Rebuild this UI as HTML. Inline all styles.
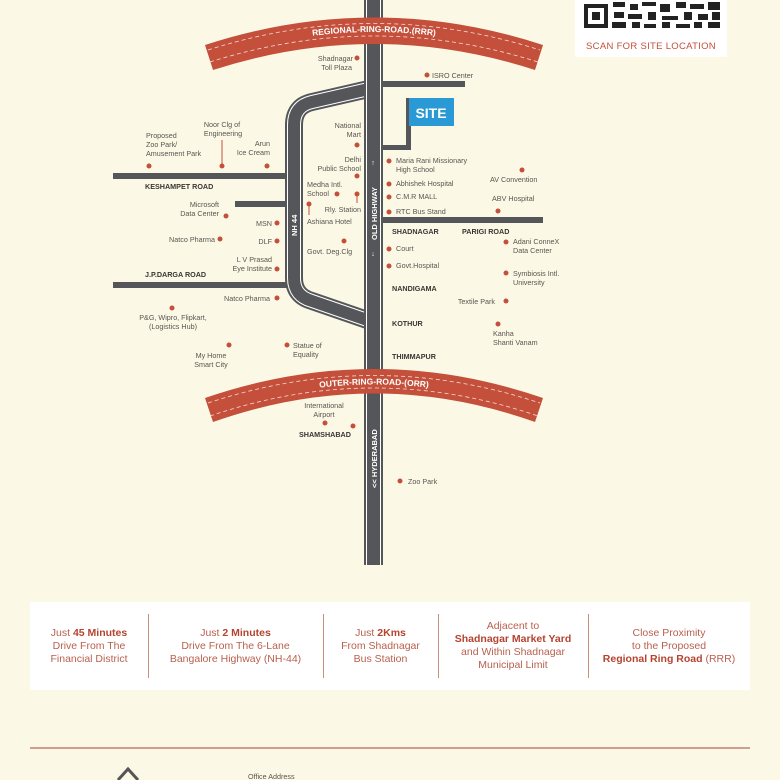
<!DOCTYPE html>
<html><head><meta charset="utf-8"><style>
html,body{margin:0;padding:0;background:#fbf9e6;}
body{width:780px;height:780px;overflow:hidden;position:relative;font-family:"Liberation Sans",sans-serif;}
svg{position:absolute;left:0;top:0}
.l{font-size:7.2px;fill:#5a5450}
.b{font-size:7.2px;font-weight:bold;fill:#3a3533}
.d{fill:#c4503b}
.box{position:absolute;left:30px;top:602px;width:720px;height:88px;background:#fff;}
.c{position:absolute;top:0;height:88px;display:flex;align-items:center;justify-content:center;text-align:center;font-size:10.5px;line-height:13px;color:#b8604e}
.c b{color:#b5432f}
.sep{position:absolute;top:12px;width:1px;height:64px;background:#c9907f}
</style></head><body>
<svg width="780" height="780" viewBox="0 0 780 780">
<rect x="575" y="0" width="152" height="57" fill="#fff"/>
<rect x="584" y="4" width="24" height="24" fill="#222"/><rect x="588" y="8" width="16" height="16" fill="#fff"/><rect x="592" y="12" width="8" height="8" fill="#222"/>
<g fill="#222"><rect x="613" y="2" width="12" height="5"/><rect x="630" y="4" width="8" height="6"/><rect x="642" y="2" width="14" height="4"/><rect x="660" y="4" width="10" height="8"/><rect x="676" y="2" width="10" height="6"/><rect x="690" y="4" width="14" height="5"/><rect x="708" y="2" width="12" height="8"/>
<rect x="614" y="12" width="10" height="6"/><rect x="628" y="14" width="14" height="5"/><rect x="648" y="12" width="8" height="8"/><rect x="662" y="16" width="16" height="4"/><rect x="684" y="12" width="8" height="8"/><rect x="698" y="14" width="10" height="6"/><rect x="712" y="12" width="8" height="8"/>
<rect x="612" y="22" width="14" height="6"/><rect x="632" y="22" width="8" height="6"/><rect x="644" y="24" width="12" height="4"/><rect x="662" y="22" width="8" height="6"/><rect x="676" y="24" width="14" height="4"/><rect x="694" y="22" width="8" height="6"/><rect x="708" y="22" width="12" height="6"/></g>
<text x="651" y="49" text-anchor="middle" font-size="9.5" fill="#c4503b" letter-spacing=".3">SCAN FOR SITE LOCATION</text>

<g fill="none" stroke-linejoin="round">
<path d="M373,88 L312,102 Q294,106 294,125 L294,278 Q294,296 312,301 L373,322" stroke="#55565a" stroke-width="18"/>
<path d="M373,88 L312,102 Q294,106 294,125 L294,278 Q294,296 312,301 L373,322" stroke="#fff" stroke-width="14"/>
<path d="M373,88 L312,102 Q294,106 294,125 L294,278 Q294,296 312,301 L373,322" stroke="#55565a" stroke-width="12"/>
</g>
<rect x="364" y="0" width="19" height="565" fill="#55565a"/>
<rect x="366" y="0" width="1" height="565" fill="#fff"/><rect x="380" y="0" width="1" height="565" fill="#fff"/>
<g fill="#55565a">
<rect x="113" y="173" width="174" height="6"/>
<rect x="235" y="201" width="52" height="6"/>
<rect x="113" y="282" width="174" height="6"/>
<rect x="383" y="81" width="82" height="6"/>
<rect x="383" y="217" width="160" height="6"/>
<rect x="406" y="98" width="5" height="52"/>
<rect x="383" y="145" width="28" height="5"/>
</g>
<rect x="409" y="98" width="45" height="28" fill="#2a9ad6"/>
<text x="431" y="118" text-anchor="middle" font-size="14" font-weight="bold" fill="#fff">SITE</text>

<path d="M205,45 Q374,-10 543,45 L535,70 Q374,18 213,70 Z" fill="#c4503b"/>
<path d="M210,62 Q374,10 538,62" fill="none" stroke="#fff" stroke-width=".8" stroke-dasharray="4 3" opacity=".8"/>
<path d="M208,50 Q374,-3 540,50" fill="none" stroke="#fff" stroke-width=".8" stroke-dasharray="4 3" opacity=".8"/>
<path id="rt" d="M210,59 Q374,5 538,59" fill="none"/>
<text font-size="8.5" font-weight="bold" fill="#fff"><textPath href="#rt" startOffset="50%" text-anchor="middle">REGIONAL-RING-ROAD.(RRR)</textPath></text>

<path d="M205,398 Q374,340 543,398 L535,422 Q374,365 213,422 Z" fill="#c4503b"/>
<path d="M208,403 Q374,348 540,403" fill="none" stroke="#fff" stroke-width=".8" stroke-dasharray="4 3" opacity=".8"/>
<path d="M210,416 Q374,360 538,416" fill="none" stroke="#fff" stroke-width=".8" stroke-dasharray="4 3" opacity=".8"/>
<path id="ot" d="M210,413 Q374,356 538,413" fill="none"/>
<text font-size="8.5" font-weight="bold" fill="#fff"><textPath href="#ot" startOffset="50%" text-anchor="middle">OUTER-RING-ROAD-(ORR)</textPath></text>

<text transform="translate(297,236) rotate(-90)" font-size="7.5" font-weight="bold" fill="#fff">NH 44</text>
<text transform="translate(377,240) rotate(-90)" font-size="7.5" font-weight="bold" fill="#fff">OLD HIGHWAY</text>
<text x="373" y="165" font-size="7" fill="#fff" text-anchor="middle">↑</text>
<text x="373" y="256" font-size="7" fill="#fff" text-anchor="middle">↓</text>
<text transform="translate(377,488) rotate(-90)" font-size="7.5" font-weight="bold" fill="#fff">&lt;&lt; HYDERABAD</text>

<g class="d">
<circle cx="357" cy="58" r="2.5"/><circle cx="427" cy="75" r="2.5"/>
<circle cx="357" cy="145" r="2.5"/><circle cx="357" cy="176" r="2.5"/><circle cx="337" cy="194" r="2.5"/><circle cx="357" cy="194" r="2.5"/><circle cx="309" cy="204" r="2.5"/>
<circle cx="344" cy="241" r="2.5"/>
<circle cx="149" cy="166" r="2.5"/><circle cx="222" cy="166" r="2.5"/><circle cx="267" cy="166" r="2.5"/>
<circle cx="226" cy="216" r="2.5"/><circle cx="277" cy="223" r="2.5"/><circle cx="220" cy="239" r="2.5"/><circle cx="277" cy="241" r="2.5"/><circle cx="277" cy="269" r="2.5"/>
<circle cx="277" cy="298" r="2.5"/><circle cx="172" cy="308" r="2.5"/><circle cx="229" cy="345" r="2.5"/><circle cx="287" cy="345" r="2.5"/>
<circle cx="389" cy="161" r="2.5"/><circle cx="389" cy="184" r="2.5"/><circle cx="389" cy="197" r="2.5"/><circle cx="389" cy="212" r="2.5"/>
<circle cx="389" cy="249" r="2.5"/><circle cx="389" cy="266" r="2.5"/>
<circle cx="522" cy="170" r="2.5"/><circle cx="498" cy="211" r="2.5"/><circle cx="506" cy="242" r="2.5"/><circle cx="506" cy="273" r="2.5"/><circle cx="506" cy="301" r="2.5"/><circle cx="498" cy="324" r="2.5"/>
<circle cx="325" cy="423" r="2.5"/><circle cx="353" cy="426" r="2.5"/><circle cx="400" cy="481" r="2.5"/>
</g>
<g stroke="#c4503b" stroke-width="1"><line x1="222" y1="140" x2="222" y2="166"/><line x1="357" y1="194" x2="357" y2="203"/><line x1="309" y1="204" x2="309" y2="215"/></g>

<g class="l">
<text x="353" y="61" text-anchor="end">Shadnagar</text><text x="352" y="70" text-anchor="end">Toll Plaza</text>
<text x="432" y="78">ISRO Center</text>
<text x="361" y="128" text-anchor="end">National</text><text x="361" y="137" text-anchor="end">Mart</text>
<text x="361" y="162" text-anchor="end">Delhi</text><text x="361" y="171" text-anchor="end">Public School</text>
<text x="307" y="187">Medha Intl.</text><text x="307" y="196">School</text>
<text x="361" y="212" text-anchor="end">Rly. Station</text>
<text x="307" y="224">Ashiana Hotel</text>
<text x="307" y="254">Govt. Deg.Clg</text>
<text x="146" y="138">Proposed</text><text x="146" y="147">Zoo Park/</text><text x="146" y="156">Amusement Park</text>
<text x="222" y="127" text-anchor="middle">Noor Clg of</text><text x="223" y="136" text-anchor="middle">Engineering</text>
<text x="270" y="146" text-anchor="end">Arun</text><text x="270" y="155" text-anchor="end">Ice Cream</text>
<text x="219" y="207" text-anchor="end">Microsoft</text><text x="219" y="216" text-anchor="end">Data Center</text>
<text x="272" y="226" text-anchor="end">MSN</text>
<text x="215" y="242" text-anchor="end">Natco Pharma</text>
<text x="272" y="244" text-anchor="end">DLF</text>
<text x="272" y="262" text-anchor="end">L V Prasad</text><text x="272" y="271" text-anchor="end">Eye Institute</text>
<text x="270" y="301" text-anchor="end">Natco Pharma</text>
<text x="173" y="320" text-anchor="middle">P&amp;G, Wipro, Flipkart,</text><text x="173" y="329" text-anchor="middle">(Logistics Hub)</text>
<text x="211" y="358" text-anchor="middle">My Home</text><text x="211" y="367" text-anchor="middle">Smart City</text>
<text x="293" y="348">Statue of</text><text x="293" y="357">Equality</text>
<text x="396" y="163">Maria Rani Missionary</text><text x="396" y="172">High School</text>
<text x="396" y="186">Abhishek Hospital</text>
<text x="396" y="199">C.M.R MALL</text>
<text x="396" y="214">RTC Bus Stand</text>
<text x="490" y="182">AV Convention</text>
<text x="492" y="201">ABV Hospital</text>
<text x="396" y="251">Court</text>
<text x="396" y="268">Govt.Hospital</text>
<text x="513" y="244">Adani ConneX</text><text x="513" y="253">Data Center</text>
<text x="513" y="276">Symbiosis Intl.</text><text x="513" y="285">University</text>
<text x="495" y="304" text-anchor="end">Textile Park</text>
<text x="493" y="336">Kanha</text><text x="493" y="345">Shanti Vanam</text>
<text x="324" y="408" text-anchor="middle">International</text><text x="324" y="417" text-anchor="middle">Airport</text>
<text x="408" y="484">Zoo Park</text>
<text x="248" y="779">Office Address</text>
</g>
<g class="b">
<text x="145" y="189">KESHAMPET ROAD</text>
<text x="145" y="277">J.P.DARGA ROAD</text>
<text x="392" y="234">SHADNAGAR</text>
<text x="462" y="234">PARIGI ROAD</text>
<text x="392" y="291">NANDIGAMA</text>
<text x="392" y="326">KOTHUR</text>
<text x="392" y="359">THIMMAPUR</text>
<text x="299" y="437">SHAMSHABAD</text>
</g>
<line x1="30" y1="748" x2="750" y2="748" stroke="#c4806e" stroke-width="1.5"/>
<path d="M118,780 L128,769 L138,780" fill="none" stroke="#555" stroke-width="3"/>
</svg>
<div class="box">
<div class="c" style="left:0;width:118px"><span>Just <b>45 Minutes</b><br>Drive From The<br>Financial District</span></div>
<div class="sep" style="left:118px"></div>
<div class="c" style="left:118px;width:175px"><span>Just <b>2 Minutes</b><br>Drive From The 6-Lane<br>Bangalore Highway (NH-44)</span></div>
<div class="sep" style="left:293px"></div>
<div class="c" style="left:293px;width:115px"><span>Just <b>2Kms</b><br>From Shadnagar<br>Bus Station</span></div>
<div class="sep" style="left:408px"></div>
<div class="c" style="left:408px;width:150px"><span>Adjacent to<br><b>Shadnagar Market Yard</b><br>and Within Shadnagar<br>Municipal Limit</span></div>
<div class="sep" style="left:558px"></div>
<div class="c" style="left:558px;width:162px"><span>Close Proximity<br>to the Proposed<br><b>Regional Ring Road</b> (RRR)</span></div>
</div>
</body></html>
